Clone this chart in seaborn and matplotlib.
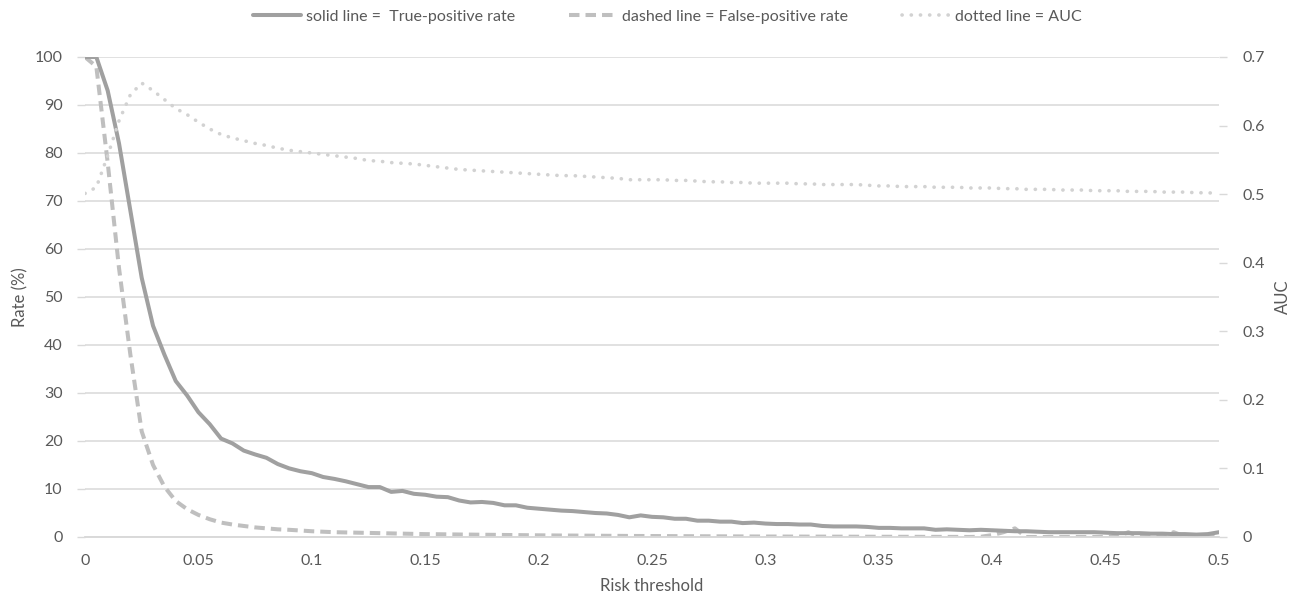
import numpy as np
import pandas as pd
import matplotlib
matplotlib.use("Agg")
import matplotlib.pyplot as plt
import seaborn as sns
from matplotlib.lines import Line2D

# ---------------- data ----------------
thresholds = np.round(np.linspace(0, 0.5, 101), 3)

tpr = [
    100, 100, 93, 82, 68, 54, 44, 38, 32.5, 29.5,
    26, 23.5, 20.5, 19.5, 18, 17.2, 16.5, 15.2, 14.3, 13.7,
    13.3, 12.5, 12.1, 11.6, 11.0, 10.4, 10.4, 9.4, 9.6, 9.0,
    8.8, 8.4, 8.3, 7.6, 7.2, 7.3, 7.1, 6.6, 6.6, 6.1,
    5.9, 5.7, 5.5, 5.4, 5.2, 5.0, 4.9, 4.6, 4.1, 4.5,
    4.2, 4.1, 3.8, 3.8, 3.4, 3.4, 3.2, 3.2, 2.9, 3.0,
    2.8, 2.7, 2.7, 2.6, 2.6, 2.3, 2.2, 2.2, 2.2, 2.1,
    1.9, 1.9, 1.8, 1.8, 1.8, 1.5, 1.6, 1.5, 1.4, 1.5,
    1.4, 1.3, 1.2, 1.2, 1.1, 1.0, 1.0, 1.0, 1.0, 1.0,
    0.9, 0.8, 0.8, 0.8, 0.7, 0.7, 0.6, 0.6, 0.5, 0.6,
    1.0,
]

fpr = [
    100, 98, 78, 56, 38, 22, 15, 10.5, 7.5, 5.8,
    4.6, 3.7, 3.0, 2.6, 2.3, 2.0, 1.8, 1.6, 1.5, 1.35,
    1.2, 1.1, 1.0, 0.95, 0.9, 0.85, 0.8, 0.75, 0.7, 0.65,
    0.6, 0.58, 0.55, 0.52, 0.5, 0.47, 0.45, 0.42, 0.4, 0.37,
    0.35, 0.33, 0.31, 0.3, 0.28, 0.27, 0.25, 0.24, 0.22, 0.21,
    0.2, 0.19, 0.18, 0.17, 0.16, 0.15, 0.14, 0.13, 0.12, 0.11,
    0.1, 0.1, 0.09, 0.09, 0.08, 0.08, 0.07, 0.07, 0.06, 0.06,
    0.05, 0.05, 0.04, 0.04, 0.03, 0.03, 0.02, 0.02, 0.01, 0.05,
    0.4, 1.0, 1.8, 0.0, 0.0, 0.0, 0.0, 0.0, 0.0, 0.0,
    0.0, 0.0, 1.0, 0.0, 0.0, 0.0, 1.0, 0.1, 0.0, 0.0,
    0.35,
]

auc = [
    0.501, 0.510, 0.556, 0.607, 0.645, 0.662, 0.651, 0.638, 0.625, 0.616,
    0.605, 0.595, 0.587, 0.582, 0.578, 0.574, 0.571, 0.567, 0.564, 0.562,
    0.560, 0.558, 0.556, 0.554, 0.552, 0.549, 0.548, 0.546, 0.545, 0.544,
    0.542, 0.540, 0.538, 0.536, 0.535, 0.534, 0.533, 0.532, 0.531, 0.530,
    0.529, 0.528, 0.527, 0.527, 0.526, 0.525, 0.524, 0.523, 0.521, 0.521,
    0.521, 0.521, 0.520, 0.520, 0.519, 0.518, 0.518, 0.517, 0.517, 0.516,
    0.516, 0.516, 0.516, 0.515, 0.515, 0.514, 0.514, 0.514, 0.514, 0.513,
    0.512, 0.512, 0.511, 0.511, 0.511, 0.510, 0.510, 0.510, 0.509, 0.509,
    0.509, 0.508, 0.508, 0.507, 0.507, 0.507, 0.506, 0.506, 0.506, 0.505,
    0.505, 0.505, 0.504, 0.504, 0.504, 0.503, 0.503, 0.503, 0.502, 0.502,
    0.501,
]

x_ticks = [0, 0.05, 0.1, 0.15, 0.2, 0.25, 0.3, 0.35, 0.4, 0.45, 0.5]
x_tick_labels = ["0", "0.05", "0.1", "0.15", "0.2", "0.25", "0.3", "0.35", "0.4", "0.45", "0.5"]
left_ticks = [0, 10, 20, 30, 40, 50, 60, 70, 80, 90, 100]
right_ticks = [0, 0.1, 0.2, 0.3, 0.4, 0.5, 0.6, 0.7]
right_tick_labels = ["0", "0.1", "0.2", "0.3", "0.4", "0.5", "0.6", "0.7"]

legend_labels = ["solid line =  True-positive rate",
                 "dashed line = False-positive rate",
                 "dotted line = AUC"]

df = pd.DataFrame({"threshold": thresholds, "tpr": tpr, "fpr": fpr, "auc": auc})

# ---------------- style ----------------
sns.set_theme(style="white")
plt.rcParams["font.family"] = ["Lato", "DejaVu Sans"]

TXT = "#595959"
GRID = "#d9d9d9"
C_SOLID = "#a0a0a0"
C_DASH = "#bfbfbf"
C_DOT = "#d2d2d2"
FS = 11.5

fig = plt.figure(figsize=(12.91, 5.95), dpi=100)
ax = fig.add_axes([85 / 1291, 1 - 537 / 595, (1219 - 85) / 1291, (537 - 57) / 595])
ax2 = ax.twinx()

LW = 2.9
sns.lineplot(data=df, x="threshold", y="tpr", ax=ax, color=C_SOLID, linewidth=LW,
             solid_joinstyle="round", zorder=3)
sns.lineplot(data=df, x="threshold", y="fpr", ax=ax, color=C_DASH, linewidth=LW,
             linestyle=(0, (2.6, 1.5)), zorder=2)
sns.lineplot(data=df, x="threshold", y="auc", ax=ax2, color=C_DOT, linewidth=2.6,
             linestyle=(0, (0.05, 2.5)), dash_capstyle="round", zorder=2)

ax.set_xlim(0, 0.5)
ax.set_ylim(0, 100)
ax2.set_ylim(0, 0.7)

ax.set_xticks(x_ticks)
ax.set_xticklabels(x_tick_labels)
ax.set_yticks(left_ticks)
ax.set_yticklabels([str(v) for v in left_ticks])
ax2.set_yticks(right_ticks)
ax2.set_yticklabels(right_tick_labels)

ax.yaxis.grid(True, color=GRID, linewidth=1.1)
ax.xaxis.grid(False)
ax2.grid(False)
ax.set_axisbelow(True)

for a in (ax, ax2):
    for s in ("top", "left", "right"):
        a.spines[s].set_visible(False)
    a.spines["bottom"].set_color(GRID)
    a.spines["bottom"].set_linewidth(1.1)

ax.tick_params(axis="x", length=0, pad=12, labelsize=FS, labelcolor=TXT)
ax.tick_params(axis="y", length=6, width=1, color=GRID, pad=10, labelsize=FS, labelcolor=TXT)
ax2.tick_params(axis="y", length=6, width=1, color=GRID, pad=11, labelsize=FS, labelcolor=TXT)

ax.set_xlabel("Risk threshold", fontsize=12, color=TXT)
ax.set_ylabel("Rate (%)", fontsize=12, color=TXT)
ax2.set_ylabel("AUC", fontsize=12, color=TXT, rotation=90)
ax.xaxis.set_label_coords(0.5, -0.086)
ax.yaxis.set_label_coords(-0.050, 0.5)
ax2.yaxis.set_label_coords(1.0494, 0.5)

handles = [
    Line2D([], [], color=C_SOLID, linewidth=LW),
    Line2D([], [], color=C_DASH, linewidth=LW, linestyle=(0, (2.6, 1.5))),
    Line2D([], [], color=C_DOT, linewidth=2.6, linestyle=(0, (0.05, 2.5)), dash_capstyle="round"),
]
fig.legend(handles, legend_labels, loc="center", bbox_to_anchor=(0.517, 0.972), ncol=3,
           frameon=False, fontsize=FS, labelcolor=TXT, handlelength=3.0,
           handletextpad=0.3, columnspacing=3.4)

fig.savefig("out.png", dpi=100)
